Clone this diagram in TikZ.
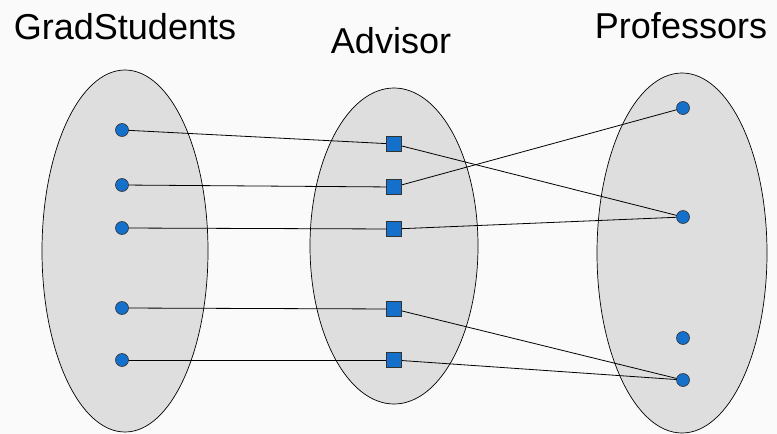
\documentclass[tikz,border=0pt]{standalone}
\usepackage{fontspec}
\setmainfont{Liberation Sans}
\definecolor{dotblue}{HTML}{1570CC}
\definecolor{setgray}{HTML}{DEDEDE}
\definecolor{bg}{HTML}{FAFAFA}
\tikzset{
  setshape/.style={ellipse, draw=black, line width=0.7pt, fill=setgray, inner sep=0pt},
  elem/.style={circle, draw=black!80, line width=0.6pt, fill=dotblue, inner sep=0pt, minimum size=13pt},
  adv/.style={rectangle, draw=black!80, line width=0.6pt, fill=dotblue, inner sep=0pt, minimum size=15pt},
  link/.style={draw=black, line width=0.8pt},
  title/.style={font=\fontsize{36}{40}\selectfont, anchor=base, inner sep=0pt}
}
\usetikzlibrary{shapes.geometric}
\begin{document}
\begin{tikzpicture}[x=1pt,y=-1pt]
\fill[bg] (0,0) rectangle (777,434);
\useasboundingbox (0,0) rectangle (777,434);
% sets
\node[setshape, minimum width=166pt, minimum height=362pt] (gs) at (125,251) {};
\node[setshape, minimum width=168pt, minimum height=316pt] (ad) at (394,246) {};
\node[setshape, minimum width=170pt, minimum height=360pt] (pr) at (682,253) {};
% titles
\node[title] (tgs) at (125,39) {GradStudents};
\node[title] (tad) at (391,53) {Advisor};
\node[title] (tpr) at (681,38) {Professors};
% links
\coordinate (l1) at (122,130);
\coordinate (l2) at (122,185);
\coordinate (l3) at (122,228);
\coordinate (l4) at (122,308);
\coordinate (l5) at (122,360);
\coordinate (s1) at (394,144);
\coordinate (s2) at (394,187);
\coordinate (s3) at (394,229);
\coordinate (s4) at (394,309);
\coordinate (s5) at (394,360);
\coordinate (r1) at (683,108);
\coordinate (r2) at (683,217);
\coordinate (r3) at (683,338);
\coordinate (r4) at (683,380);
\draw[link] (l1) -- (s1);
\draw[link] (l2) -- (s2);
\draw[link] (l3) -- (s3);
\draw[link] (l4) -- (s4);
\draw[link] (l5) -- (s5);
\draw[link] (s1) -- (r2);
\draw[link] (s2) -- (r1);
\draw[link] (s3) -- (r2);
\draw[link] (s4) -- (r4);
\draw[link] (s5) -- (r4);
% elements
\foreach \n in {l1,l2,l3,l4,l5,r1,r2,r3,r4} \node[elem] (e\n) at (\n) {};
\foreach \n in {s1,s2,s3,s4,s5} \node[adv] (e\n) at (\n) {};
\end{tikzpicture}
\end{document}
